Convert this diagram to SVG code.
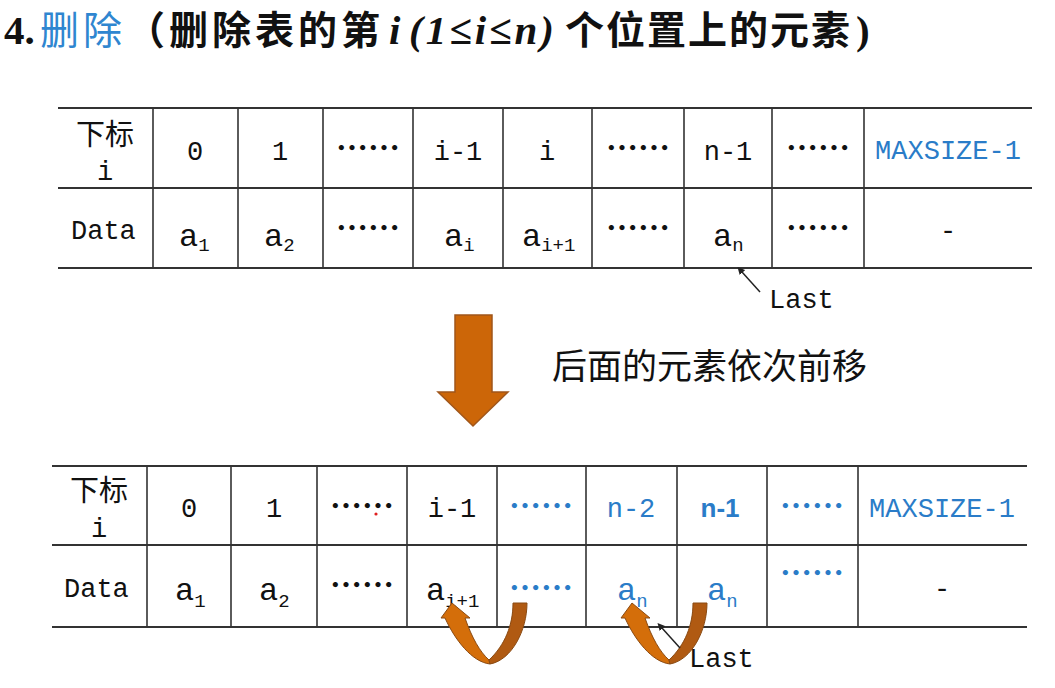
<svg xmlns="http://www.w3.org/2000/svg" width="1055" height="688" viewBox="0 0 1055 688">
<style>
.ln{stroke:#333;stroke-width:2;fill:none}
.vl{stroke:#333;stroke-width:1.6;fill:none}
.m{font-family:"Liberation Mono","DejaVu Sans Mono",monospace;font-size:27px;fill:#111}
.c{font-family:"Noto Sans CJK SC","Noto Sans",sans-serif;fill:#111}
.h{font-family:"Noto Sans CJK SC",sans-serif;font-size:29px;fill:#111}
.dot{font-family:"Noto Sans CJK SC",sans-serif;font-size:32px;font-weight:bold;fill:#111}
.a{font-family:"Liberation Mono","DejaVu Sans Mono",monospace;font-size:32px;fill:#111}
.s{font-size:19px}
.b{fill:#2a7cc8}
.mid{text-anchor:middle}
.arrowL{fill:#d46e0a;stroke:#8a4a12;stroke-width:1}
.arrowR{fill:#b05a12;stroke:#8a4a12;stroke-width:1}
.tc{font-family:"Noto Sans CJK SC",sans-serif;font-weight:bold;fill:#111}
.tl{font-family:"Liberation Serif",serif;font-weight:bold;fill:#111}
</style>
<defs>
<marker id="ah" viewBox="0 0 10 10" refX="1" refY="5" markerWidth="5" markerHeight="5" orient="auto-start-reverse">
<path d="M0,0 L10,5 L0,10 Z" fill="#222"/>
</marker>
<g id="uarrow">
<path class="arrowL" d="M490,664 C472,662 455,640 445,618 L441,618 L452,603 L470,618 L465,618 C472,638 480,652 489,660 Z"/>
<path class="arrowR" d="M513,603 L527,603 C527,630 512,660 490,664 L489,660 C505,645 513,625 513,603 Z"/>
</g>
</defs>
<rect width="1055" height="688" fill="#fff"/>

<g id="title">
<text y="44" font-size="39">
<tspan x="4" class="tl" font-size="41">4.</tspan>
<tspan x="40" font-family="Noto Sans CJK SC,sans-serif" fill="#2f86d0" letter-spacing="4">删除</tspan>
<tspan x="126" class="tc" letter-spacing="4">（删除表的第</tspan>
<tspan x="389" class="tl" font-style="italic" font-size="41">i</tspan>
<tspan x="409" class="tl" font-style="italic" font-size="41" letter-spacing="3">(1≤i≤n)</tspan>
<tspan x="565" class="tc" letter-spacing="2">个位置上的元素</tspan>
<tspan x="856" class="tl" font-size="41">)</tspan>
</text>
</g>

<g id="table-before">
<line class="ln" x1="58" y1="108" x2="1032" y2="108"/>
<line class="ln" x1="58" y1="188" x2="1032" y2="188"/>
<line class="ln" x1="58" y1="268" x2="1032" y2="268"/>
<line class="vl" x1="153" y1="108" x2="153" y2="268"/>
<line class="vl" x1="238" y1="108" x2="238" y2="268"/>
<line class="vl" x1="323" y1="108" x2="323" y2="268"/>
<line class="vl" x1="413" y1="108" x2="413" y2="268"/>
<line class="vl" x1="503" y1="108" x2="503" y2="268"/>
<line class="vl" x1="592" y1="108" x2="592" y2="268"/>
<line class="vl" x1="684" y1="108" x2="684" y2="268"/>
<line class="vl" x1="772" y1="108" x2="772" y2="268"/>
<line class="vl" x1="864" y1="108" x2="864" y2="268"/>
<text class="h mid" x="105" y="145">下标</text>
<text class="m mid" x="105" y="180">i</text>
<text class="m mid" x="195" y="160">0</text>
<text class="m mid" x="280" y="160">1</text>
<text class="dot mid" x="368" y="160">……</text>
<text class="m mid" x="458" y="160">i-1</text>
<text class="m mid" x="547" y="160">i</text>
<text class="dot mid" x="638" y="160">……</text>
<text class="m mid" x="728" y="160">n-1</text>
<text class="dot mid" x="818" y="160">……</text>
<text class="m mid b" x="948" y="159">MAXSIZE-1</text>
<text class="m" x="71" y="239">Data</text>
<text class="a" x="179" y="246">a<tspan class="s" dy="5">1</tspan></text>
<text class="a" x="264" y="246">a<tspan class="s" dy="5">2</tspan></text>
<text class="dot mid" x="368" y="240">……</text>
<text class="a" x="444" y="246">a<tspan class="s" dy="5">i</tspan></text>
<text class="a" x="522" y="246">a<tspan class="s" dy="5">i+1</tspan></text>
<text class="dot mid" x="638" y="240">……</text>
<text class="a" x="713" y="246">a<tspan class="s" dy="5">n</tspan></text>
<text class="dot mid" x="818" y="240">……</text>
<text class="m mid" x="948" y="239">-</text>
</g>

<g id="last-before">
<line x1="760" y1="292" x2="742" y2="272" stroke="#222" stroke-width="1.5" marker-end="url(#ah)"/>
<text class="m" x="769" y="308">Last</text>
</g>

<g id="shift-arrow">
<polygon points="455,315 492,315 492,392 508,392 473,426 438,392 455,392" fill="#cc6608" stroke="#a0561a" stroke-width="1.5"/>
<text class="c" x="552" y="379" font-size="35">后面的元素依次前移</text>
</g>

<g id="table-after">
<line class="ln" x1="52" y1="466" x2="1027" y2="466"/>
<line class="ln" x1="52" y1="545" x2="1027" y2="545"/>
<line class="ln" x1="52" y1="627" x2="1027" y2="627"/>
<line class="vl" x1="147" y1="466" x2="147" y2="627"/>
<line class="vl" x1="231" y1="466" x2="231" y2="627"/>
<line class="vl" x1="317" y1="466" x2="317" y2="627"/>
<line class="vl" x1="407" y1="466" x2="407" y2="627"/>
<line class="vl" x1="497" y1="466" x2="497" y2="627"/>
<line class="vl" x1="586" y1="466" x2="586" y2="627"/>
<line class="vl" x1="677" y1="466" x2="677" y2="627"/>
<line class="vl" x1="767" y1="466" x2="767" y2="627"/>
<line class="vl" x1="858" y1="466" x2="858" y2="627"/>
<text class="h mid" x="99" y="501">下标</text>
<text class="m mid" x="99" y="537">i</text>
<text class="m mid" x="189" y="517">0</text>
<text class="m mid" x="274" y="517">1</text>
<text class="dot mid" x="362" y="518">……</text>
<circle cx="376" cy="514" r="1.6" fill="#e02020"/>
<text class="m mid" x="452" y="517">i-1</text>
<text class="dot mid b" x="541" y="518">……</text>
<text class="m mid b" x="631" y="517">n-2</text>
<text class="mid b" x="720" y="517" font-family="Liberation Sans,Arial,sans-serif" font-weight="bold" font-size="26">n-1</text>
<text class="dot mid b" x="812" y="518">……</text>
<text class="m mid b" x="942" y="517">MAXSIZE-1</text>
<text class="m" x="64" y="597">Data</text>
<text class="a" x="175" y="600">a<tspan class="s" dy="7">1</tspan></text>
<text class="a" x="259" y="600">a<tspan class="s" dy="7">2</tspan></text>
<text class="dot mid" x="362" y="597">……</text>
<text class="a" x="426" y="600">a<tspan class="s" dy="7">i+1</tspan></text>
<text class="dot mid b" x="541" y="600">……</text>
<text class="a b" x="617" y="600">a<tspan class="s" dy="7">n</tspan></text>
<text class="a b" x="707" y="600">a<tspan class="s" dy="7">n</tspan></text>
<text class="dot mid b" x="812" y="585">……</text>
<text class="m mid" x="942" y="597">-</text>
</g>

<g id="connectors">
<use href="#uarrow"/>
<use href="#uarrow" transform="translate(180,0)"/>
<line x1="680" y1="648" x2="662" y2="628" stroke="#222" stroke-width="1.5" marker-end="url(#ah)"/>
<text class="m" x="689" y="667">Last</text>
</g>
</svg>
